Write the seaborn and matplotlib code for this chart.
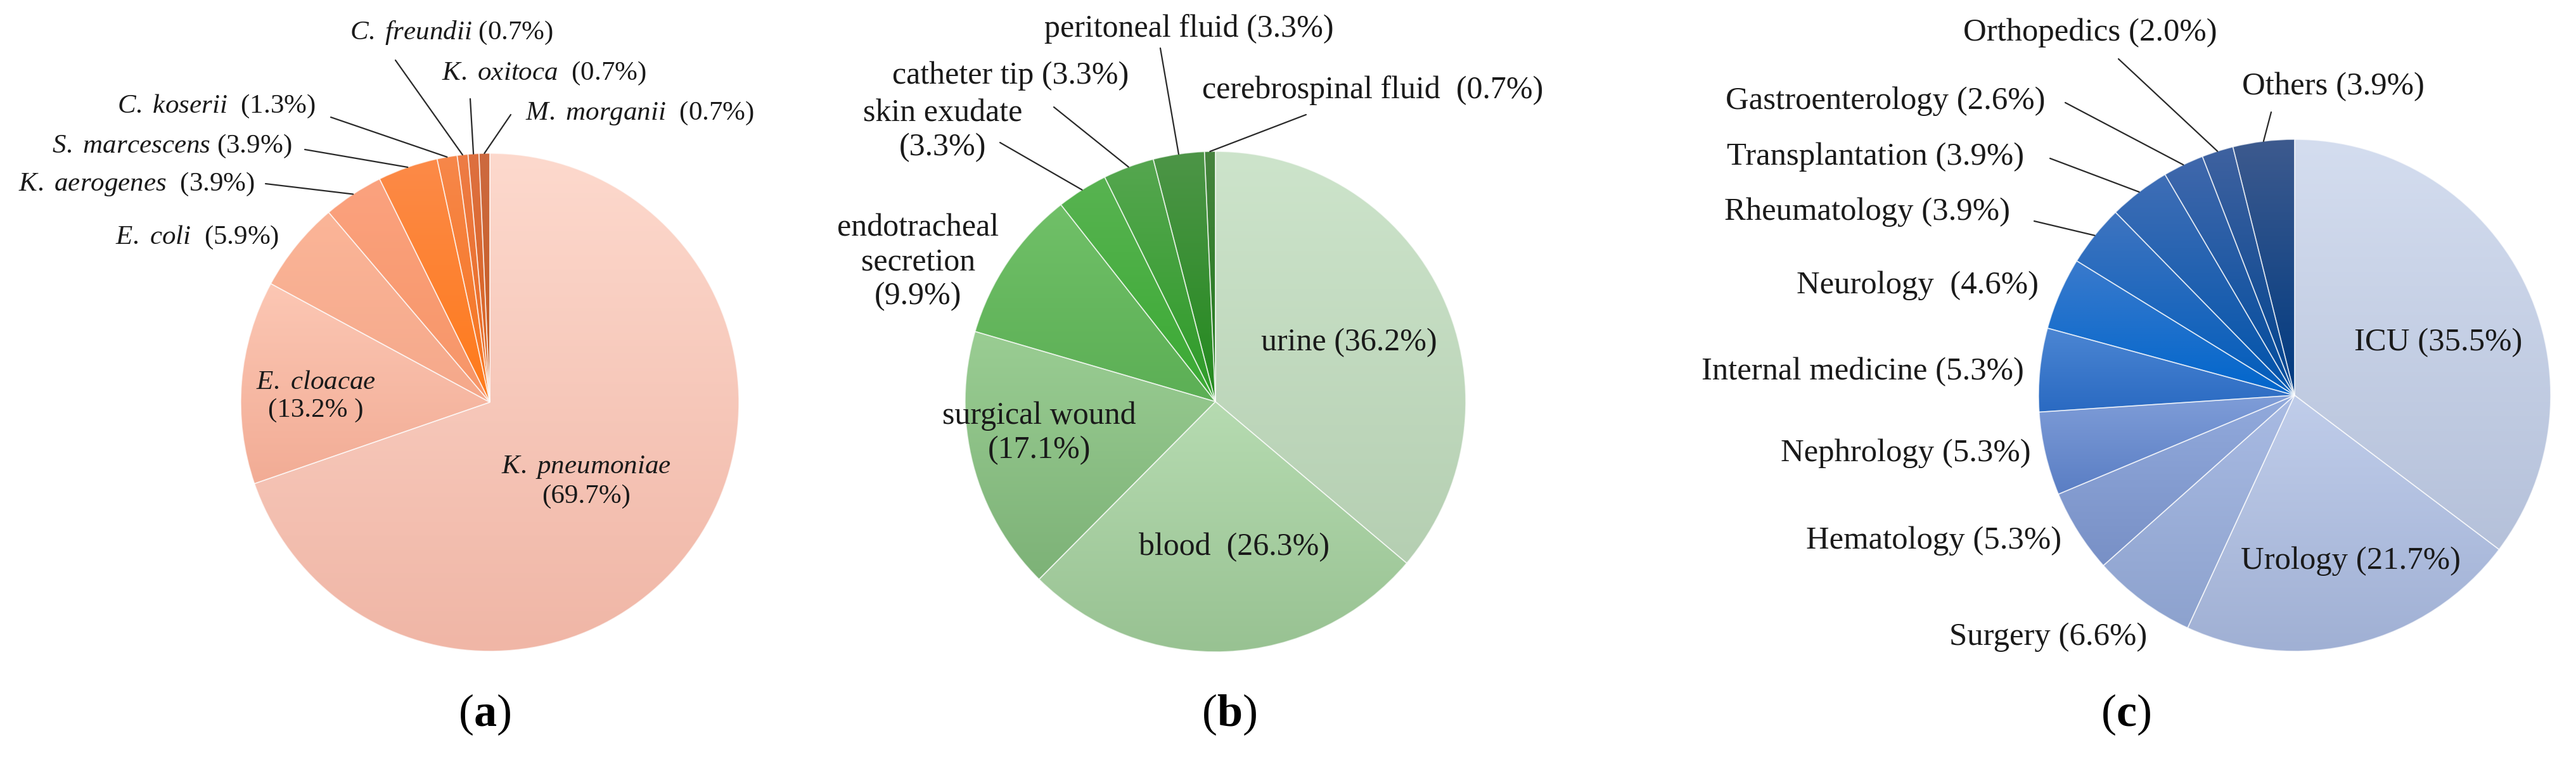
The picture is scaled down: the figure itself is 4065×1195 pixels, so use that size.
import numpy as np
import matplotlib
matplotlib.use("Agg")
import matplotlib.pyplot as plt
import seaborn as sns

# (a) bacterial species
species = ["K. pneumoniae", "E. cloacae", "E. coli", "K. aerogenes", "S. marcescens",
           "C. koserii", "C. freundii", "K. oxitoca", "M. morganii"]
species_pct = [69.7, 13.2, 5.9, 3.9, 3.9, 1.3, 0.7, 0.7, 0.7]

# (b) specimen types
sources = ["urine", "blood", "surgical wound", "endotracheal secretion", "skin exudate",
           "catheter tip", "peritoneal fluid", "cerebrospinal fluid"]
source_pct = [36.2, 26.3, 17.1, 9.9, 3.3, 3.3, 3.3, 0.7]

# (c) hospital wards
wards = ["ICU", "Urology", "Surgery", "Hematology", "Nephrology", "Internal medicine",
         "Neurology", "Rheumatology", "Transplantation", "Gastroenterology",
         "Orthopedics", "Others"]
ward_pct = [35.5, 21.7, 6.6, 5.3, 5.3, 5.3, 4.6, 3.9, 3.9, 2.6, 2.0, 3.9]

# gradient colours (top -> bottom) for every slice
oranges_top = ["#FDD9CD", "#FCC7B4", "#FBB598", "#FBA27F", "#FC8A48",
               "#F7874A", "#EE7C45", "#DE7040", "#CD6A40"]
oranges_bot = ["#F0B6A6", "#F2AC95", "#F5A88A", "#F79566", "#FF7A1A",
               "#F5741E", "#E86A20", "#D8621E", "#C45A1E"]
greens_top = ["#CDE4CB", "#B6DBB1", "#9ACD93", "#70C068", "#58B351",
              "#55A64F", "#4D9547", "#47843F"]
greens_bot = ["#B5CFB2", "#98C292", "#7DB277", "#5CAF55", "#3AAA33",
              "#2E9C28", "#238A1E", "#1F7A1A"]
blues_top = ["#D4DDEF", "#C0CDEA", "#A9BBE3", "#92AADC", "#7F9DD8", "#4C86D3",
             "#3A7ACC", "#3E74C0", "#3F6EB6", "#4068AC", "#3F62A0", "#3D5A8E"]
blues_bot = ["#B5C1DA", "#A0B0D4", "#8DA2CE", "#7890C6", "#5A7EC4", "#2A6AC2",
             "#0066CC", "#005CBB", "#0053AA", "#004B9C", "#00438F", "#003A80"]

W, H = 4065, 1195

sns.set_theme(style="white")
plt.rcParams["font.family"] = ["Liberation Serif", "DejaVu Serif"]
plt.rcParams["mathtext.fontset"] = "custom"
plt.rcParams["mathtext.rm"] = "Liberation Serif"
plt.rcParams["mathtext.it"] = "Liberation Serif:italic"
plt.rcParams["mathtext.bf"] = "Liberation Serif:bold"

TXT = "#1a1a1a"
LINE = "#2a2a2a"


def fy(y):
    # picture rows counted from the top
    return H - y


# label layout: x, y, alignment, template, leader line start (picture pixels)
layout_a = [
    (925, 760, "center", "{n}\n({p}%)", None),
    (498, 626, "center", "{n}\n({p}% )", None),
    (440, 375, "right", "{n}  ({p}%)", None),
    (402, 291, "right", "{n}  ({p}%)", (419, 290)),
    (460, 231, "right", "{n} ({p}%)", (481, 236)),
    (498, 168, "right", "{n}  ({p}%)", (522, 185)),
    (713, 52, "center", "{n} ({p}%)", (624, 95)),
    (858, 116, "center", "{n}  ({p}%)", (742, 156)),
    (829, 179, "left", "{n}  ({p}%)", (806, 181)),
]
layout_b = [
    (2129, 541, "center", "{n} ({p}%)", None),
    (1948, 864, "center", "{n}  ({p}%)", None),
    (1640, 684, "center", "{n}\n({p}%)", None),
    (1449, 414, "center", "{nl}\n({p}%)", None),
    (1488, 206, "center", "{n}\n({p}%)", (1578, 225)),
    (1595, 120, "center", "{n} ({p}%)", (1663, 169)),
    (1876, 46, "center", "{n} ({p}%)", (1831, 76)),
    (2166, 143, "center", "{n}  ({p}%)", (2061, 181)),
]
layout_c = [
    (3848, 541, "center", "{n} ({p}%)", None),
    (3710, 886, "center", "{n} ({p}%)", None),
    (3388, 1006, "right", "{n} ({p}%)", None),
    (3253, 854, "right", "{n} ({p}%)", None),
    (3205, 716, "right", "{n} ({p}%)", None),
    (3194, 587, "right", "{n} ({p}%)", None),
    (3217, 451, "right", "{n}  ({p}%)", None),
    (3172, 335, "right", "{n} ({p}%)", (3210, 349)),
    (3194, 248, "right", "{n} ({p}%)", (3235, 250)),
    (3228, 160, "right", "{n} ({p}%)", (3259, 162)),
    (3298, 52, "center", "{n} ({p}%)", (3343, 93)),
    (3682, 137, "center", "{n} ({p}%)", (3584, 177)),
]

fig = plt.figure(figsize=(W / 100, H / 100), dpi=100)
ax = fig.add_axes([0, 0, 1, 1])


def draw_pie(names, pct, tops, bots, center, radius, layout, italic, fsize):
    wedges, _ = ax.pie(pct, center=(center[0], fy(center[1])), radius=radius,
                       startangle=90, counterclock=False, colors=bots,
                       wedgeprops=dict(edgecolor=(1, 1, 1, 0.6), linewidth=1.2, zorder=3))
    for w, c0, c1 in zip(wedges, tops, bots):
        x0, y0, x1, y1 = w.get_path().get_extents().extents
        grad = np.array(sns.blend_palette([c0, c1], n_colors=128))[:, None, :]
        im = ax.imshow(grad, extent=(x0, x1, y0, y1), origin="upper", aspect="auto",
                       interpolation="bilinear", zorder=1)
        im.set_clip_path(w)
        w.set_facecolor("none")

    for w, name, p, (x, y, ha, tmpl, start) in zip(wedges, names, pct, layout):
        n = name
        if italic:
            n = "$\\it{" + name.replace(" ", "\\ ") + "}$"
        s = tmpl.format(n=n, nl=name.replace(" ", "\n"), p=f"{p:.1f}")
        ax.text(x, fy(y), s, ha=ha, va="center", fontsize=fsize, color=TXT,
                multialignment="center", zorder=5)
        if start is not None:
            th = np.deg2rad((w.theta1 + w.theta2) / 2)
            ex = w.center[0] + w.r * np.cos(th)
            ey = w.center[1] + w.r * np.sin(th)
            ax.plot([start[0], ex], [fy(start[1]), ey], color=LINE, lw=1.6, zorder=4)


draw_pie(species, species_pct, oranges_top, oranges_bot, (773, 635), 393, layout_a, True, 31)
draw_pie(sources, source_pct, greens_top, greens_bot, (1918, 634), 395, layout_b, False, 36)
draw_pie(wards, ward_pct, blues_top, blues_bot, (3621, 624), 404, layout_c, False, 36.5)

for tag, x in zip(["a", "b", "c"], [765, 1940, 3355]):
    ax.text(x, fy(1128), "($\\mathbf{" + tag + "}$)", ha="center", va="center",
            fontsize=52, color="black")

ax.set_xlim(0, W)
ax.set_ylim(0, H)
ax.set_aspect("equal")
ax.axis("off")

fig.savefig("out.png", dpi=100)
